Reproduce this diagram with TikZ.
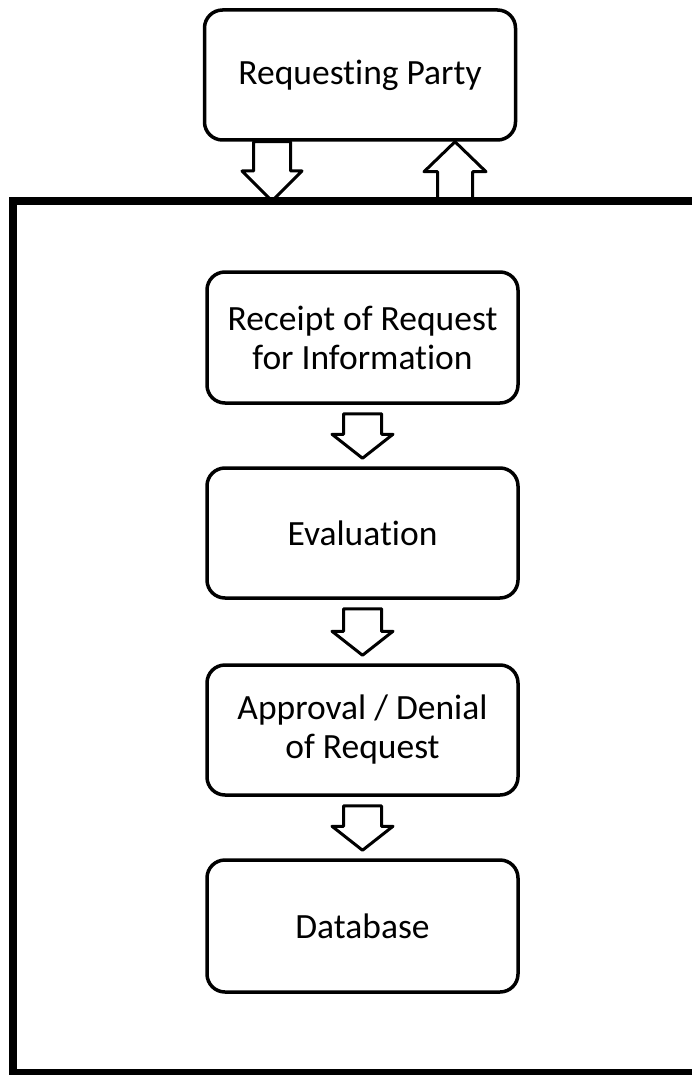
\documentclass[tikz,border=0pt]{standalone}
\usepackage{fontspec}
\setmainfont[Ligatures=NoCommon]{Carlito}
\usetikzlibrary{calc}
\tikzset{
  procbox/.style={draw, line width=3.5pt, rounded corners=18pt, minimum width=311pt,
    minimum height=130pt, align=center, inner sep=0pt,
    font=\fontsize{35.5}{39}\selectfont},
  blockarrow/.style={draw, line width=3pt, fill=white, line join=round},
  frameline/.style={line width=7.5pt, line join=miter}
}
% #1 top-centre, #2 tip, #3 head length, #4 half shaft, #5 half head
\newcommand\downblock[5]{%
  \draw[blockarrow] ($(#1)+(-#4,0)$) -- ($(#1)+(#4,0)$) -- ($(#2)+(#4,-#3)$) --
    ($(#2)+(#5,-#3)$) -- (#2) -- ($(#2)+(-#5,-#3)$) -- ($(#2)+(-#4,-#3)$) -- cycle;}
% #1 bottom-centre, #2 tip
\newcommand\upblock[5]{%
  \draw[blockarrow] ($(#1)+(-#4,0)$) -- ($(#1)+(#4,0)$) -- ($(#2)+(#4,#3)$) --
    ($(#2)+(#5,#3)$) -- (#2) -- ($(#2)+(-#5,#3)$) -- ($(#2)+(-#4,#3)$) -- cycle;}
\begin{document}
\begin{tikzpicture}[x=1pt, y=-1pt]
\useasboundingbox (0,0) rectangle (692,1075);
\clip (0,0) rectangle (692,1075);

\node[procbox] (rp) at (360,75) {Requesting Party};
\node[procbox, minimum height=131pt] (rcpt) at (362.5,337.5) {Receipt of Request\\for Information};
\node[procbox] (eval) at (362.5,533) {Evaluation};
\node[procbox] (appr) at (362.5,730) {Approval / Denial\\of Request};
\node[procbox, minimum height=132pt] (db) at (362.5,926) {Database};

\coordinate (ftl) at (13,201);
\coordinate (fbl) at (13,1073);
\coordinate (ftr) at (700,201);
\coordinate (fbr) at (700,1073);

% arrows between requesting party and the frame
\coordinate (dtop) at ($(rp.south)+(-88,0)$);
\coordinate (dtip) at (dtop |- ftl);
\downblock{dtop}{dtip}{30}{18.5}{30}
\coordinate (utip) at ($(rp.south)+(95,0)$);
\coordinate (ubot) at (utip |- ftl);
\upblock{ubot}{utip}{30}{17.5}{31}

% frame
\draw[frameline] (ftr) -- (ftl) -- (fbl) -- (fbr);

% arrows between steps
\coordinate (a1t) at ($(rcpt.south)+(0,9)$);
\coordinate (a1b) at ($(eval.north)+(0,-8)$);
\downblock{a1t}{a1b}{24}{19}{30.5}
\coordinate (a2t) at ($(eval.south)+(0,9)$);
\coordinate (a2b) at ($(appr.north)+(0,-8)$);
\downblock{a2t}{a2b}{24}{19}{30.5}
\coordinate (a3t) at ($(appr.south)+(0,9)$);
\coordinate (a3b) at ($(db.north)+(0,-8)$);
\downblock{a3t}{a3b}{24}{19}{30.5}
\end{tikzpicture}
\end{document}
